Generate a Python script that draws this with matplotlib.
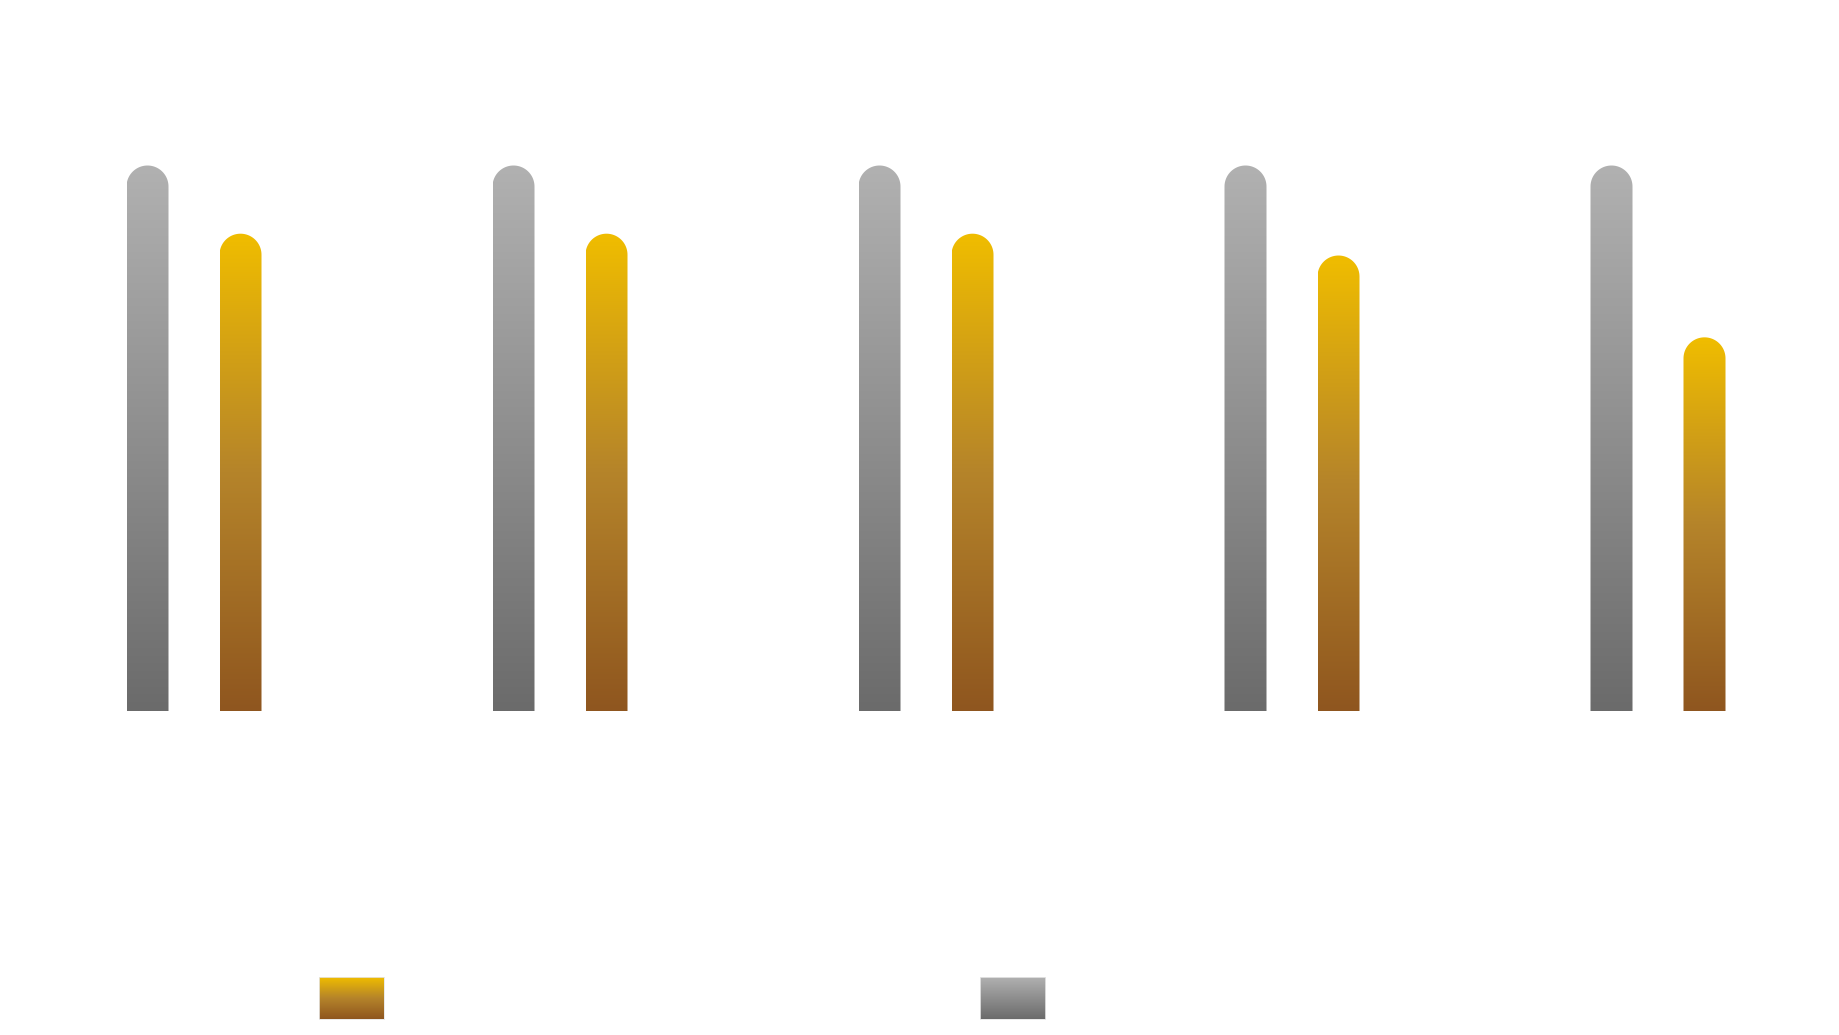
import numpy as np
import matplotlib
matplotlib.use("Agg")
import matplotlib.pyplot as plt
from matplotlib.colors import LinearSegmentedColormap
from matplotlib.path import Path
from matplotlib.patches import PathPatch

categories = ["A", "B", "C", "D", "E"]
total_values = [100, 100, 100, 100, 100]
actual_values = [87.5, 87.5, 87.5, 83.5, 68.5]
y_max = 100

gray_cmap = LinearSegmentedColormap.from_list("gray_grad", ["#6b6b6b", "#b1b1b1"])
gold_cmap = LinearSegmentedColormap.from_list("gold_grad", ["#8f561f", "#b5842a", "#f0bd00"])

W, H = 1840, 1035
fig = plt.figure(figsize=(W / 100, H / 100), dpi=100)
fig.patch.set_facecolor("white")

ax_left, ax_bottom, ax_w, ax_h = 11, 324, 1830, 545.5
ax = fig.add_axes([ax_left / W, ax_bottom / H, ax_w / W, ax_h / H])
ax.set_xlim(-0.5, len(categories) - 0.5)
ax.set_ylim(0, y_max)
ax.axis("off")

bar_w = 42 / 366
offset = 46.5 / 366
px_per_x = ax_w / len(categories)
px_per_y = ax_h / y_max
grad = np.linspace(0, 1, 256).reshape(-1, 1)


def rounded_bar(x, value, cmap):
    rx = bar_w / 2
    ry = (bar_w * px_per_x / 2) / px_per_y
    t = np.linspace(0, np.pi, 40)
    xs = [x - rx, x + rx] + list(x + rx * np.cos(t)) + [x - rx]
    ys = [0, 0] + list(value - ry + ry * np.sin(t)) + [0]
    verts = list(zip(xs, ys)) + [(x - rx, 0)]
    codes = [Path.MOVETO] + [Path.LINETO] * (len(verts) - 2) + [Path.CLOSEPOLY]
    patch = PathPatch(Path(verts, codes), facecolor="none", edgecolor="none")
    ax.add_patch(patch)
    im = ax.imshow(grad, cmap=cmap, origin="lower", aspect="auto",
                   extent=[x - rx, x + rx, 0, value], interpolation="bilinear")
    im.set_clip_path(patch)


for i in range(len(categories)):
    rounded_bar(i - offset, total_values[i], gray_cmap)
    rounded_bar(i + offset, actual_values[i], gold_cmap)

ax.set_xlim(-0.5, len(categories) - 0.5)
ax.set_ylim(0, y_max)

# legend swatches
for left, cmap in [(319, gold_cmap), (980, gray_cmap)]:
    lax = fig.add_axes([left / W, (H - 1019) / H, 65 / W, 42 / H])
    lax.imshow(grad, cmap=cmap, origin="lower", aspect="auto", extent=[0, 1, 0, 1])
    lax.set_xticks([])
    lax.set_yticks([])
    for s in lax.spines.values():
        s.set_color("#e6e6e6")
        s.set_linewidth(0.6)

fig.savefig("out.png", dpi=100, facecolor="white")
